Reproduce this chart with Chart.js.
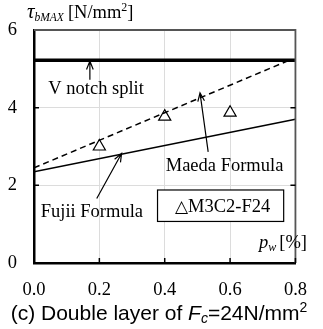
<!DOCTYPE html>
<html>
<head>
<meta charset="utf-8">
<script src="https://cdn.jsdelivr.net/npm/chart.js@4"></script>
<style>
  html, body { margin: 0; padding: 0; background: #fff; }
  #wrap { width: 323px; height: 329px; }
</style>
</head>
<body>
<div id="wrap"><canvas id="grafica" width="323" height="329"></canvas></div>
<script>
// datos
const xTicks = [0, 0.2, 0.4, 0.6, 0.8];
const yTicks = [0, 2, 4, 6];

const pwEnsayo = [0.2, 0.4, 0.6];
const tauEnsayo = [3.0, 3.77, 3.87];

const vNotchX = [0, 0.8];
const vNotchY = [5.22, 5.22];

const maedaX = [0, 0.775];
const maedaY = [2.45, 5.2];

const fujiiX = [0, 0.8];
const fujiiY = [2.35, 3.7];

const serif = '"Liberation Serif", "Times New Roman", serif';
const sans = '"Liberation Sans", Arial, sans-serif';

function pares(xs, ys) {
    return xs.map(function (x, i) { return { x: x, y: ys[i] }; });
}

function cerca(a, b) { return Math.abs(a - b) < 1e-6; }

// flecha abierta de (x1,y1) a (x2,y2) en unidades de datos
function flecha(ctx, sx, sy, x1, y1, x2, y2) {
    const ax = sx.getPixelForValue(x1), ay = sy.getPixelForValue(y1);
    const bx = sx.getPixelForValue(x2), by = sy.getPixelForValue(y2);
    const ang = Math.atan2(by - ay, bx - ax);
    ctx.save();
    ctx.strokeStyle = '#000';
    ctx.lineWidth = 1.2;
    ctx.beginPath();
    ctx.moveTo(ax, ay);
    ctx.lineTo(bx, by);
    ctx.moveTo(bx - 9 * Math.cos(ang - 0.38), by - 9 * Math.sin(ang - 0.38));
    ctx.lineTo(bx, by);
    ctx.lineTo(bx - 9 * Math.cos(ang + 0.38), by - 9 * Math.sin(ang + 0.38));
    ctx.stroke();
    ctx.restore();
}

// texto con partes (normal, subindice, superindice)
function textoRico(ctx, partes, x, y, align) {
    let total = 0;
    partes.forEach(function (p) { ctx.font = p.font; total += ctx.measureText(p.t).width + (p.gap || 0); });
    let cx = align === 'right' ? x - total : (align === 'center' ? x - total / 2 : x);
    ctx.textAlign = 'left';
    ctx.textBaseline = 'alphabetic';
    partes.forEach(function (p) {
        ctx.font = p.font;
        ctx.fillText(p.t, cx, y + (p.dy || 0));
        cx += ctx.measureText(p.t).width + (p.gap || 0);
    });
}

const decoracion = {
    id: 'decoracion',
    afterDraw: function (chart) {
        const ctx = chart.ctx;
        const a = chart.chartArea;
        const sx = chart.scales.x, sy = chart.scales.y;
        ctx.save();

        // marco superior y derecho
        ctx.strokeStyle = '#555';
        ctx.lineWidth = 1.8;
        ctx.beginPath();
        ctx.moveTo(a.left, a.top);
        ctx.lineTo(a.right, a.top);
        ctx.lineTo(a.right, a.bottom);
        ctx.stroke();

        // marcas interiores
        ctx.strokeStyle = '#000';
        ctx.lineWidth = 1.5;
        ctx.beginPath();
        yTicks.slice(1, -1).forEach(function (v) {
            const py = sy.getPixelForValue(v);
            ctx.moveTo(a.left, py); ctx.lineTo(a.left + 5, py);
            ctx.moveTo(a.right, py); ctx.lineTo(a.right - 5, py);
        });
        xTicks.slice(1).forEach(function (v) {
            const px = sx.getPixelForValue(v);
            ctx.moveTo(px, a.bottom); ctx.lineTo(px, a.bottom - 5);
        });
        ctx.stroke();

        // flechas
        flecha(ctx, sx, sy, 0.171, 4.72, 0.171, 5.2);
        flecha(ctx, sx, sy, 0.533, 2.86, 0.508, 4.38);
        flecha(ctx, sx, sy, 0.192, 1.66, 0.268, 2.82);

        // rotulos
        ctx.fillStyle = '#000';
        ctx.font = '18.5px ' + serif;
        ctx.textAlign = 'center';
        ctx.textBaseline = 'middle';
        ctx.fillText('V notch split', sx.getPixelForValue(0.19), sy.getPixelForValue(4.48));
        ctx.fillText('Maeda Formula', sx.getPixelForValue(0.583), sy.getPixelForValue(2.5));
        ctx.fillText('Fujii Formula', sx.getPixelForValue(0.177), sy.getPixelForValue(1.3));

        // cuadro de leyenda
        const bx1 = sx.getPixelForValue(0.378), bx2 = sx.getPixelForValue(0.764);
        const by1 = sy.getPixelForValue(1.88), by2 = sy.getPixelForValue(1.07);
        ctx.fillStyle = '#fff';
        ctx.fillRect(bx1, by1, bx2 - bx1, by2 - by1);
        ctx.strokeStyle = '#000';
        ctx.lineWidth = 1.2;
        ctx.strokeRect(bx1, by1, bx2 - bx1, by2 - by1);
        ctx.fillStyle = '#000';
        textoRico(ctx, [
            { t: '\u25B3', font: '17px "DejaVu Sans", sans-serif' },
            { t: 'M3C2-F24', font: '18.5px ' + serif }
        ], (bx1 + bx2) / 2 + 2, (by1 + by2) / 2 + 6, 'center');

        // titulo del eje y
        textoRico(ctx, [
            { t: '\u03C4', font: 'italic 21px ' + serif },
            { t: 'bMAX', font: 'italic 11.5px ' + serif, dy: 3, gap: 4 },
            { t: '[N/mm', font: '18.5px ' + serif },
            { t: '2', font: '12px ' + serif, dy: -7 },
            { t: ']', font: '18.5px ' + serif }
        ], 27, 18, 'left');

        // titulo del eje x
        textoRico(ctx, [
            { t: 'p', font: 'italic 18.5px ' + serif },
            { t: 'w', font: 'italic 12px ' + serif, dy: 3, gap: 3 },
            { t: '[%]', font: '18.5px ' + serif }
        ], 307, 248, 'right');

        // pie de figura
        textoRico(ctx, [
            { t: '(c) Double layer of ', font: '21px ' + sans },
            { t: 'F', font: 'italic 21px ' + sans },
            { t: 'c', font: 'italic 14px ' + sans, dy: 3 },
            { t: '=24N/mm', font: '21px ' + sans },
            { t: '2', font: '14px ' + sans, dy: -8 }
        ], 159, 320, 'center');

        ctx.restore();
    }
};

new Chart(document.getElementById('grafica'), {
    type: 'scatter',
    data: {
        datasets: [{
            label: 'V notch split',
            data: pares(vNotchX, vNotchY),
            showLine: true,
            borderColor: '#000',
            borderWidth: 3.5,
            pointRadius: 0
        }, {
            label: 'Maeda Formula',
            data: pares(maedaX, maedaY),
            showLine: true,
            borderColor: '#000',
            borderWidth: 1.5,
            borderDash: [6, 4],
            pointRadius: 0
        }, {
            label: 'Fujii Formula',
            data: pares(fujiiX, fujiiY),
            showLine: true,
            borderColor: '#000',
            borderWidth: 1.5,
            pointRadius: 0
        }, {
            label: 'M3C2-F24',
            data: pares(pwEnsayo, tauEnsayo),
            showLine: false,
            pointStyle: 'triangle',
            pointRadius: 7,
            borderColor: '#000',
            borderWidth: 1.2,
            backgroundColor: '#fff'
        }]
    },
    options: {
        responsive: false,
        animation: false,
        devicePixelRatio: 1,
        layout: { padding: { top: 30, right: 26, left: 0, bottom: 0 } },
        plugins: {
            legend: { display: false },
            tooltip: { enabled: false }
        },
        scales: {
            x: {
                type: 'linear',
                min: xTicks[0],
                max: xTicks[xTicks.length - 1],
                afterFit: function (s) { s.height = 66; },
                afterBuildTicks: function (s) { s.ticks = xTicks.map(function (v) { return { value: v }; }); },
                ticks: {
                    color: '#000',
                    padding: 16,
                    font: { family: serif, size: 18.5 },
                    callback: function (v) { return Number(v).toFixed(1); }
                },
                grid: {
                    drawTicks: false,
                    lineWidth: 1,
                    color: function (c) {
                        const v = c.tick ? c.tick.value : 0;
                        return (cerca(v, 0) || cerca(v, 0.8)) ? 'rgba(0,0,0,0)' : '#dcdcdc';
                    }
                },
                border: { color: '#000', width: 2.5 }
            },
            y: {
                type: 'linear',
                min: yTicks[0],
                max: yTicks[yTicks.length - 1],
                afterFit: function (s) { s.width = 34; },
                afterBuildTicks: function (s) { s.ticks = yTicks.map(function (v) { return { value: v }; }); },
                ticks: {
                    color: '#000',
                    padding: 17,
                    font: { family: serif, size: 18.5 }
                },
                grid: {
                    drawTicks: false,
                    lineWidth: 1,
                    color: function (c) {
                        const v = c.tick ? c.tick.value : 0;
                        return (cerca(v, 0) || cerca(v, 6)) ? 'rgba(0,0,0,0)' : '#dcdcdc';
                    }
                },
                border: { color: '#000', width: 2.5 }
            }
        }
    },
    plugins: [decoracion]
});
</script>
</body>
</html>
